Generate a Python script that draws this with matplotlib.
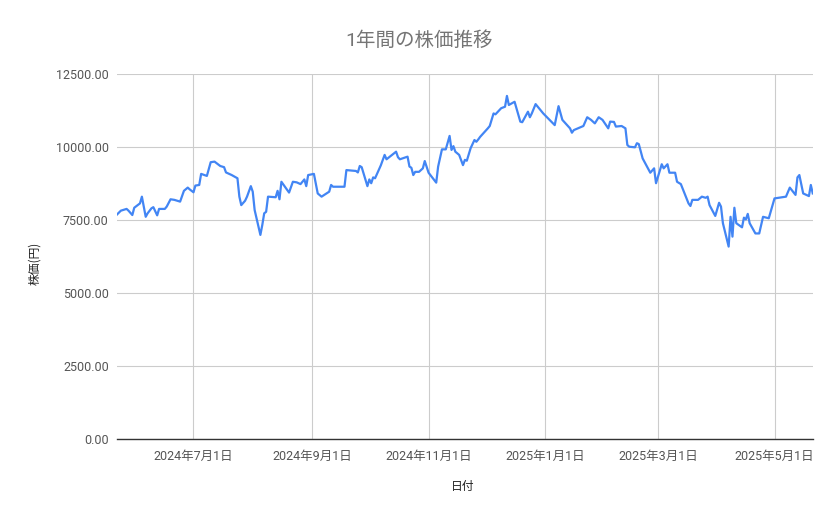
import matplotlib
matplotlib.use("Agg")
import matplotlib.pyplot as plt
import matplotlib.dates as mdates
import pandas as pd
from matplotlib.ticker import FuncFormatter

plt.rcParams['font.family'] = ['Roboto', 'Noto Sans CJK JP', 'DejaVu Sans']

# values (turning points of the line)
dates = [
    "2024-05-22", "2024-05-24", "2024-05-27", "2024-05-28", "2024-05-30", "2024-05-31",
    "2024-06-03", "2024-06-04", "2024-06-06", "2024-06-07", "2024-06-09", "2024-06-10",
    "2024-06-12", "2024-06-13", "2024-06-16", "2024-06-17", "2024-06-19", "2024-06-21",
    "2024-06-24", "2024-06-26", "2024-06-28", "2024-06-29", "2024-07-01", "2024-07-02",
    "2024-07-04", "2024-07-05", "2024-07-08", "2024-07-10", "2024-07-12", "2024-07-15",
    "2024-07-17", "2024-07-18", "2024-07-21", "2024-07-24", "2024-07-25", "2024-07-26",
    "2024-07-28", "2024-07-29", "2024-07-31", "2024-08-01", "2024-08-02", "2024-08-05",
    "2024-08-06", "2024-08-07", "2024-08-08", "2024-08-09", "2024-08-13", "2024-08-14",
    "2024-08-15", "2024-08-16", "2024-08-20", "2024-08-22", "2024-08-24", "2024-08-26",
    "2024-08-28", "2024-08-29", "2024-08-30", "2024-09-02", "2024-09-04", "2024-09-06",
    "2024-09-10", "2024-09-11", "2024-09-12", "2024-09-18", "2024-09-19", "2024-09-24",
    "2024-09-25", "2024-09-26", "2024-09-27", "2024-09-30", "2024-10-01", "2024-10-02",
    "2024-10-03", "2024-10-04", "2024-10-07", "2024-10-09", "2024-10-10", "2024-10-15",
    "2024-10-16", "2024-10-17", "2024-10-21", "2024-10-22", "2024-10-23", "2024-10-24",
    "2024-10-25", "2024-10-27", "2024-10-29", "2024-10-30", "2024-11-01", "2024-11-05",
    "2024-11-06", "2024-11-08", "2024-11-10", "2024-11-12", "2024-11-13", "2024-11-14",
    "2024-11-15", "2024-11-17", "2024-11-19", "2024-11-20", "2024-11-21", "2024-11-23",
    "2024-11-25", "2024-11-26", "2024-11-27", "2024-11-28", "2024-12-02", "2024-12-03",
    "2024-12-05", "2024-12-06", "2024-12-09", "2024-12-11", "2024-12-12", "2024-12-13",
    "2024-12-16", "2024-12-19", "2024-12-20", "2024-12-23", "2024-12-24", "2024-12-25",
    "2024-12-27", "2024-12-31", "2025-01-06", "2025-01-08", "2025-01-10", "2025-01-14",
    "2025-01-15", "2025-01-16", "2025-01-21", "2025-01-23", "2025-01-25", "2025-01-27",
    "2025-01-29", "2025-01-31", "2025-02-03", "2025-02-04", "2025-02-06", "2025-02-07",
    "2025-02-10", "2025-02-12", "2025-02-13", "2025-02-14", "2025-02-17", "2025-02-18",
    "2025-02-19", "2025-02-21", "2025-02-25", "2025-02-27", "2025-02-28", "2025-03-03",
    "2025-03-04", "2025-03-06", "2025-03-07", "2025-03-10", "2025-03-11", "2025-03-13",
    "2025-03-17", "2025-03-18", "2025-03-19", "2025-03-22", "2025-03-24", "2025-03-26",
    "2025-03-27", "2025-03-28", "2025-03-31", "2025-04-02", "2025-04-03", "2025-04-04",
    "2025-04-07", "2025-04-08", "2025-04-09", "2025-04-10", "2025-04-11", "2025-04-14",
    "2025-04-15", "2025-04-16", "2025-04-17", "2025-04-18", "2025-04-21", "2025-04-23",
    "2025-04-25", "2025-04-28", "2025-05-01", "2025-05-07", "2025-05-09", "2025-05-12",
    "2025-05-13", "2025-05-14", "2025-05-16", "2025-05-19", "2025-05-20", "2025-05-21",
]
prices = [
    7700, 7830, 7890, 7830, 7680, 7930,
    8080, 8310, 7620, 7740, 7910, 7950,
    7670, 7890, 7890, 7970, 8220, 8200,
    8140, 8510, 8620, 8560, 8460, 8690,
    8710, 9090, 9020, 9490, 9510, 9360,
    9320, 9140, 9050, 8940, 8310, 8020,
    8170, 8310, 8670, 8480, 7850, 7000,
    7340, 7740, 7790, 8310, 8290, 8510,
    8220, 8820, 8450, 8820, 8800, 8740,
    8900, 8670, 9050, 9090, 8420, 8310,
    8480, 8710, 8650, 8650, 9220, 9190,
    9140, 9360, 9320, 8670, 8900, 8770,
    8970, 8940, 9380, 9740, 9590, 9850,
    9660, 9590, 9680, 9340, 9300, 9050,
    9160, 9160, 9280, 9530, 9130, 8790,
    9340, 9930, 9930, 10390, 9910, 10040,
    9850, 9740, 9390, 9570, 9540, 9970,
    10250, 10190, 10270, 10360, 10650, 10730,
    11160, 11130, 11340, 11390, 11760, 11450,
    11560, 10880, 10860, 11220, 11030, 11160,
    11480, 11160, 10760, 11410, 10940, 10650,
    10500, 10590, 10730, 11030, 10940, 10820,
    11030, 10940, 10650, 10880, 10870, 10710,
    10730, 10650, 10080, 10020, 10000, 10140,
    10110, 9620, 9130, 9280, 8770, 9420,
    9280, 9420, 9130, 9130, 8820, 8740,
    8080, 7990, 8200, 8200, 8310, 8270,
    8310, 8020, 7650, 8100, 7970, 7400,
    6600, 7620, 6940, 7930, 7400, 7260,
    7590, 7530, 7720, 7400, 7050, 7050,
    7620, 7570, 8250, 8310, 8620, 8370,
    8970, 9050, 8420, 8330, 8710, 8420,
]
tick_dates = ["2024-07-01", "2024-09-01", "2024-11-01", "2025-01-01", "2025-03-01", "2025-05-01"]
tick_labels = ["2024年7月1日", "2024年9月1日", "2024年11月1日", "2025年1月1日", "2025年3月1日", "2025年5月1日"]
y_ticks = [0, 2500, 5000, 7500, 10000, 12500]

x = pd.to_datetime(dates)

fig = plt.figure(figsize=(8.39, 5.19), dpi=100)
ax = fig.add_axes([0.1395, 0.1536, 0.8292, 0.7032])

ax.plot(x, prices, color="#4285F4", linewidth=1.6, solid_joinstyle="round")

ax.set_xlim(x[0], x[-1])
ax.set_ylim(0, 12500)
ax.set_yticks(y_ticks)
ax.yaxis.set_major_formatter(FuncFormatter(lambda v, p: f"{v:.2f}"))
ax.set_xticks(pd.to_datetime(tick_dates))
ax.set_xticklabels(tick_labels)

ax.grid(True, color="#cccccc", linewidth=0.8)
ax.set_axisbelow(True)
for s in ["top", "right", "left"]:
    ax.spines[s].set_visible(False)
ax.spines["bottom"].set_color("#333333")
ax.spines["bottom"].set_linewidth(1.0)
ax.spines["bottom"].set_zorder(3)
ax.tick_params(length=0, colors="#555555", labelsize=9)
ax.tick_params(axis="x", pad=8)
ax.tick_params(axis="y", pad=6)

fig.text(0.5, 0.922, "1年間の株価推移", ha="center", va="center",
         fontsize=14, color="#757575")
fig.text(0.552, 0.062, "日付", ha="center", va="center", fontsize=8.5, color="#222222")
fig.text(0.041, 0.493, "株価(円)", ha="center", va="center", rotation=90,
         fontsize=8.5, color="#222222", family=["Noto Sans CJK JP"])

fig.savefig("out.png", dpi=100)
